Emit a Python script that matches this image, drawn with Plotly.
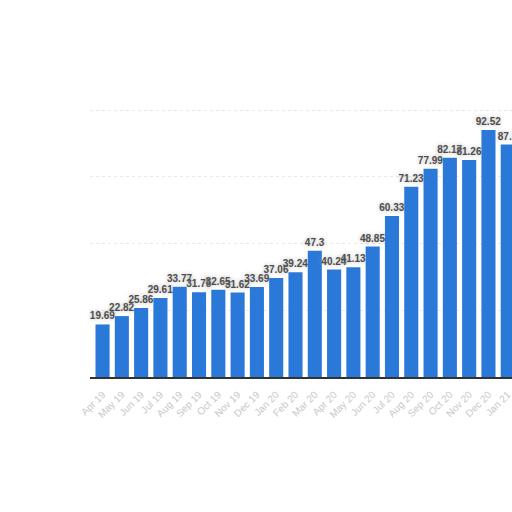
import plotly.graph_objects as go

months = ["Apr 19", "May 19", "Jun 19", "Jul 19", "Aug 19", "Sep 19", "Oct 19", "Nov 19",
          "Dec 19", "Jan 20", "Feb 20", "Mar 20", "Apr 20", "May 20", "Jun 20", "Jul 20",
          "Aug 20", "Sep 20", "Oct 20", "Nov 20", "Dec 20", "Jan 21"]
values = [19.69, 22.82, 25.86, 29.61, 33.77, 31.75, 32.65, 31.62, 33.69, 37.06, 39.24,
          47.3, 40.24, 41.13, 48.85, 60.33, 71.23, 77.99, 82.17, 81.26, 92.52, 87.1]

fig = go.Figure(go.Bar(
    x=list(range(len(months))),
    y=values,
    text=[f"{v:g}" for v in values],
    textposition="outside",
    constraintext="none",
    cliponaxis=False,
    textfont=dict(family="Liberation Sans, Arial", size=10, color="#4d4d4d",
                  weight="bold", shadow="0px 0px 4px #b0b0b0"),
    marker=dict(color="#2a78d8", line=dict(width=0)),
    width=0.73,
))

fig.update_layout(
    width=512, height=512,
    margin=dict(l=90, r=0, t=50, b=135, autoexpand=False),
    paper_bgcolor="white", plot_bgcolor="white",
    showlegend=False,
    font=dict(family="Liberation Sans, Arial"),
    xaxis=dict(
        range=[-0.65, 21.22],
        automargin=False,
        tickvals=list(range(len(months))),
        ticktext=months,
        tickangle=-45,
        ticklabeloverflow="allow",
        ticklabelstandoff=6,
        tickfont=dict(size=10, color="#c8c8c8"),
        showline=True, linecolor="#333333", linewidth=1.5,
        showgrid=False, ticks="", zeroline=False,
    ),
    yaxis=dict(
        range=[0, 122.5],
        automargin=False,
        tickvals=[25, 50, 75, 100],
        showticklabels=False,
        showgrid=True, gridcolor="#e8e8e8", griddash="dot", gridwidth=1,
        zeroline=False, showline=False,
    ),
)

fig.write_html("out.html", config={"displayModeBar": False},
               post_script="document.body.style.margin='0';")
